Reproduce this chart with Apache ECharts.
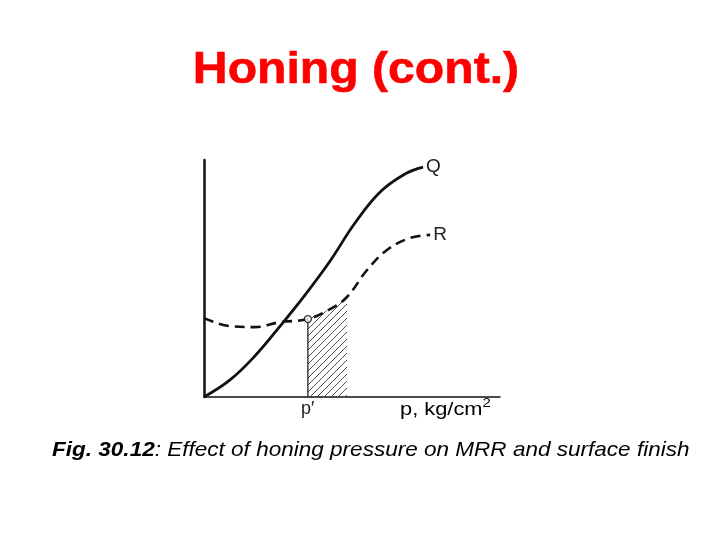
<!DOCTYPE html>
<html><head><meta charset="utf-8">
<script src="https://cdn.jsdelivr.net/npm/echarts@6/dist/echarts.min.js"></script>
<style>html,body{margin:0;padding:0;background:#fff}#c{width:720px;height:540px}</style>
</head><body><div id="c"></div>
<script>
// Data (arbitrary units)
const qPoints = [[0,0],[0.88,0.72],[1.72,1.73],[2.57,2.99],[3.41,4.30],[4.26,5.74],[5.10,7.34],[5.95,8.65],[6.79,9.41],[7.40,9.70]];
const rPoints = [[0,3.33],[0.88,2.99],[1.72,2.95],[2.57,3.16],[3.51,3.29],[4.26,3.71],[4.83,4.22],[5.51,5.36],[6.18,6.20],[6.96,6.71],[7.64,6.84]];
const hatchRange = [3.51, 4.83];
const markerPoint = [[3.51,3.29]];
const titleText = 'Honing (cont.)';
const curveNames = ['Q','R'];
const pLabel = 'p′';
const axisName = ['p, kg/cm', '2'];
const captionBold = 'Fig. 30.12';
const captionRest = ': Effect of honing pressure on MRR and surface finish';

const chart = echarts.init(document.getElementById('c'));
const FONT = 'Liberation Sans, Arial, sans-serif';

function hatchPattern(){
  const c = document.createElement('canvas');
  c.width = 7; c.height = 7;
  const g = c.getContext('2d');
  g.strokeStyle = '#3a3a3a'; g.lineWidth = 0.9;
  g.beginPath(); g.moveTo(0,7); g.lineTo(7,0); g.stroke();
  g.beginPath(); g.moveTo(-1,1); g.lineTo(1,-1); g.stroke();
  g.beginPath(); g.moveTo(6,8); g.lineTo(8,6); g.stroke();
  return c;
}
const pat = hatchPattern();
const hatchTop = rPoints.filter(p => p[0] >= hatchRange[0] && p[0] <= hatchRange[1]);

chart.setOption({
  animation:false,
  backgroundColor:'#fff',
  grid:{left:204, right:220, top:160, bottom:143},
  xAxis:{type:'value', min:0, max:10, axisLine:{show:true, lineStyle:{color:'#111', width:1.5}},
    axisTick:{show:false}, axisLabel:{show:false}, splitLine:{show:false}},
  yAxis:{type:'value', min:0, max:10, axisLine:{show:true, lineStyle:{color:'#111', width:2.5}},
    axisTick:{show:false}, axisLabel:{show:false}, splitLine:{show:false}},
  graphic:[
    {type:'text', x:356, y:48, scaleX:1.07, style:{text:titleText, align:'center', verticalAlign:'top',
      font:'bold 45px '+FONT, fill:'#ff0000', stroke:'#ff0000', lineWidth:0.6}},
    {type:'text', x:301, y:400, style:{text:pLabel, font:'18px '+FONT, fill:'#222', verticalAlign:'top'}},
    {type:'text', x:400, y:397, scaleX:1.15, style:{
      text:'{a|'+axisName[0]+'}{s|'+axisName[1]+'}', verticalAlign:'top',
      rich:{a:{fontSize:19, fontFamily:FONT, color:'#222', verticalAlign:'bottom', lineHeight:22},
            s:{fontSize:13, fontFamily:FONT, color:'#222', verticalAlign:'top', lineHeight:22}}
    }},
    {type:'text', x:52, y:440, scaleX:1.073, style:{
      text:'{b|'+captionBold+'}{n|'+captionRest+'}', verticalAlign:'top',
      rich:{b:{fontSize:21, fontStyle:'italic', fontWeight:'bold', fontFamily:FONT, color:'#1a1a1a'},
            n:{fontSize:21, fontStyle:'italic', fontFamily:FONT, color:'#1a1a1a'}}
    }}
  ],
  series:[
    {type:'custom', z:1, data:[0], renderItem:function(params, api){
      const pts = [api.coord([hatchRange[0],0])];
      hatchTop.forEach(p => pts.push(api.coord(p)));
      pts.push(api.coord([hatchRange[1],0]));
      const a = api.coord([hatchRange[0],0]), b = api.coord([hatchRange[0],hatchTop[0][1]]);
      return {type:'group', children:[
        {type:'polygon', shape:{points:pts, smooth:0}, style:{fill:{image:pat, repeat:'repeat'}, stroke:null}},
        {type:'line', shape:{x1:a[0],y1:a[1],x2:b[0],y2:b[1]}, style:{stroke:'#222', lineWidth:1.3}}
      ]};
    }},
    {name:curveNames[0], type:'line', data:qPoints, smooth:0.4, symbol:'none', z:3,
      lineStyle:{color:'#111', width:2.8},
      endLabel:{show:true, formatter:curveNames[0], color:'#222', fontSize:19, fontFamily:FONT, distance:3}},
    {name:curveNames[1], type:'line', data:rPoints, smooth:0.4, symbol:'none', z:3,
      lineStyle:{color:'#111', width:2.6, type:[10,6]},
      endLabel:{show:true, formatter:curveNames[1], color:'#222', fontSize:19, fontFamily:FONT, distance:3}},
    {type:'scatter', data:markerPoint, symbol:'circle', symbolSize:7, z:4,
      itemStyle:{color:'#fff', borderColor:'#111', borderWidth:1.3}}
  ]
});
</script></body></html>
